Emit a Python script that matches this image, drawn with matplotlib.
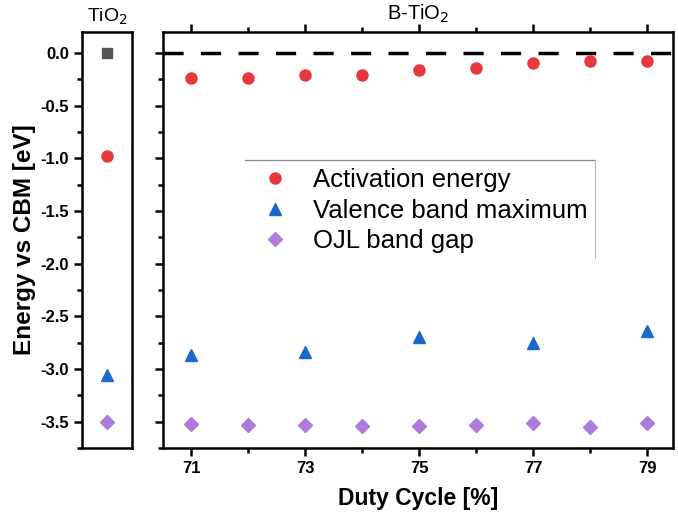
import matplotlib.pyplot as plt
from matplotlib.lines import Line2D
from matplotlib.ticker import MultipleLocator

plt.rcParams['font.family'] = ['Liberation Sans', 'DejaVu Sans']
plt.rcParams['axes.unicode_minus'] = False

# duty cycle [%] for B-TiO2 films
duty = [71, 72, 73, 74, 75, 76, 77, 78, 79]
act_energy = [-0.24, -0.24, -0.205, -0.21, -0.16, -0.14, -0.09, -0.075, -0.075]
vbm_duty = [71, 73, 75, 77, 79]
vbm = [-2.865, -2.84, -2.70, -2.755, -2.635]
ojl_gap = [-3.522, -3.53, -3.53, -3.54, -3.54, -3.53, -3.51, -3.55, -3.51]

# undoped TiO2 reference
tio2_cbm = 0.0
tio2_act = -0.98
tio2_vbm = -3.055
tio2_gap = -3.505

red = '#E8383D'
blue = '#1B68CC'
purple = '#AE7BDD'
grey = '#555555'

fig = plt.figure(figsize=(6.78, 5.19), dpi=100)
ax1 = fig.add_axes([0.121, 0.1368, 0.0737, 0.8015])
ax2 = fig.add_axes([0.2404, 0.1368, 0.7522, 0.8015])

ylim = (-3.75, 0.2)

# left panel: TiO2
ax1.plot([0], [tio2_cbm], 's', color=grey, ms=6.5)
ax1.plot([0], [tio2_act], 'o', color=red, ms=8)
ax1.plot([0], [tio2_vbm], '^', color=blue, ms=8.5)
ax1.plot([0], [tio2_gap], 'D', color=purple, ms=7.5)
ax1.set_xlim(-1, 1)
ax1.set_ylim(*ylim)
ax1.set_xticks([])
ax1.yaxis.set_major_locator(MultipleLocator(0.5))
ax1.yaxis.set_minor_locator(MultipleLocator(0.25))
ax1.set_title('TiO$_2$', fontsize=14, y=1.026, pad=0)
ax1.set_ylabel('Energy vs CBM [eV]', fontsize=17.5, fontweight='bold', labelpad=3)

# right panel: B-TiO2 vs duty cycle
ax2.axhline(0, color='black', lw=2.5, ls=(0, (5.8, 5.0)), zorder=1)
ax2.plot(duty, act_energy, 'o', color=red, ms=8, label='Activation energy')
ax2.plot(vbm_duty, vbm, '^', color=blue, ms=8.5, label='Valence band maximum')
ax2.plot(duty, ojl_gap, 'D', color=purple, ms=7.5, label='OJL band gap')
ax2.set_xlim(70.5, 79.45)
ax2.set_ylim(*ylim)
ax2.set_xticks([71, 73, 75, 77, 79])
ax2.xaxis.set_minor_locator(MultipleLocator(1))
ax2.yaxis.set_major_locator(MultipleLocator(0.5))
ax2.yaxis.set_minor_locator(MultipleLocator(0.25))
ax2.tick_params(axis='y', which='both', labelleft=False)
ax2.tick_params(axis='x', which='both', top=True)
ax2.set_title('B-TiO$_2$', fontsize=14.5, y=1.029, pad=0)
ax2.set_xlabel('Duty Cycle [%]', fontsize=16.5, fontweight='bold', labelpad=8)

for ax in (ax1, ax2):
    for sp in ax.spines.values():
        sp.set_linewidth(1.8)
    ax.tick_params(which='major', direction='out', length=6, width=1.8,
                   labelsize=12)
    ax.tick_params(which='minor', direction='out', length=3.5, width=1.8)
    for lab in ax.get_xticklabels() + ax.get_yticklabels():
        lab.set_fontweight('bold')

leg = ax2.legend(loc='upper left', bbox_to_anchor=(0.194, 0.672), frameon=False,
                 fontsize=18.5, handletextpad=1.0, labelspacing=0.25,
                 borderaxespad=0, borderpad=0, handlelength=1.0)

# legend border: top and right edges only
fig.add_artist(Line2D([245 / 678, 595 / 678], [1 - 160 / 519, 1 - 160 / 519],
                      color='#888888', lw=0.9))
fig.add_artist(Line2D([595 / 678, 595 / 678], [1 - 160 / 519, 1 - 258 / 519],
                      color='#BBBBBB', lw=0.8))

fig.savefig('out.png', dpi=100)
